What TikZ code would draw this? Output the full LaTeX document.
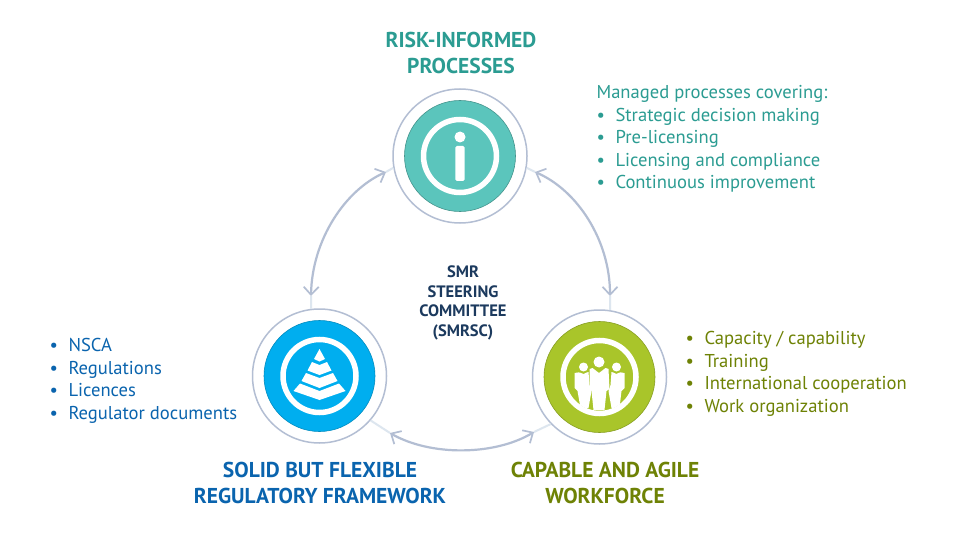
\documentclass[tikz,border=0pt]{standalone}
\usepackage{fontspec}
\setmainfont{PT Sans}
\usetikzlibrary{arrows.meta}
\definecolor{teal1}{HTML}{5BC5BC}
\definecolor{tealtx}{HTML}{2B9C92}
\definecolor{blue1}{HTML}{00AEEF}
\definecolor{bluetx}{HTML}{0A64AE}
\definecolor{green1}{HTML}{A9C52A}
\definecolor{greentx}{HTML}{6E8205}
\definecolor{navy}{HTML}{1C3A5E}
\definecolor{ringc}{HTML}{B3BED3}
\definecolor{fadec}{HTML}{DDE6EF}
\tikzset{
  x=1pt,y=-1pt,
  outerring/.style={circle,draw=ringc,line width=1.5pt,fill=white,minimum size=134pt,inner sep=0pt},
  disc/.style={circle,minimum size=111pt,inner sep=0pt},
  whitering/.style={circle,draw=white,line width=5.5pt,minimum size=73pt,inner sep=0pt},
  link/.style={draw=ringc,line width=2.2pt,{Straight Barb[length=8pt,width=15pt,line width=1.7pt]}-{Straight Barb[length=8pt,width=15pt,line width=1.7pt]}},
  tail/.style={draw=fadec,line width=2pt},
  title/.style={font=\fontsize{21.5}{26}\selectfont\bfseries,align=center},
  lst/.style={font=\fontsize{18.6}{22.5}\selectfont,align=left,anchor=north west},
  mid/.style={font=\fontsize{16.5}{19.5}\selectfont\bfseries,align=center,text=navy}
}
\newcommand{\bl}{\makebox[19pt][l]{•}}
\begin{document}
\begin{tikzpicture}
\useasboundingbox (0,0) rectangle (960,540);
\fill[white] (0,0) rectangle (960,540);
% free ends
\coordinate (tl) at (386,172);\coordinate (tr) at (535,172);
\coordinate (lt) at (311,296);\coordinate (rt) at (610,296);
\coordinate (lr) at (390,433);\coordinate (rl) at (534,432);
% rings
\node[outerring] (top) at (460,156) {};
\node[outerring] (left) at (319.5,376) {};
\node[outerring] (right) at (599.5,377) {};
% tails
\draw[tail] (top.190) -- (tl);
\draw[tail] (top.-10) -- (tr);
\draw[tail] (left.97) -- (lt);
\draw[tail] (right.81) -- (rt);
\draw[tail] (left.-41) -- (lr);
\draw[tail] (right.224) -- (rl);
% arcs
\draw[link] (tl) .. controls (345,190) and (312,240) .. (lt);
\draw[link] (tr) .. controls (577,190) and (610,240) .. (rt);
\draw[link] (lr) .. controls (430,456) and (494,456) .. (rl);
% discs
\node[disc,fill=teal1,draw=teal1!75!black,line width=.6pt] (dt) at (top) {};
\node[disc,fill=blue1,draw=blue1!80!black,line width=.6pt] (dl) at (left) {};
\node[disc,fill=green1,draw=green1!80!black,line width=.6pt] (dr) at (right) {};
\node[whitering] (wt) at (top) {};
\node[whitering] (wl) at (left) {};
\node[whitering] (wr) at (right) {};
% info icon
\fill[white] (460,137) circle (5.5);
\fill[white,rounded corners=1.5pt] (455.3,146) rectangle (464.7,181);
% pyramid
\begin{scope}[shift={(left)}]
\fill[white] (0,-27) -- (5.5,-17) -- (0,-14.5) -- (-5.5,-17) -- cycle;
\fill[white] (-7.5,-14) -- (0,-11) -- (7.5,-14) -- (12,-5.5) -- (0,-1) -- (-12,-5.5) -- cycle;
\fill[white] (-13.5,-3) -- (0,2) -- (13.5,-3) -- (18,5) -- (0,12) -- (-18,5) -- cycle;
\fill[white] (-19.5,7.5) -- (0,15) -- (19.5,7.5) -- (26,15) -- (0,24) -- (-26,15) -- cycle;
\end{scope}
% people
\begin{scope}[shift={(right)}]
\clip (0,0) circle (34);
\fill[white] (-16,-10) circle (4.5);
\fill[white] (17,-10) circle (4.5);
\fill[white] (-0.5,-15) circle (5.5);
\fill[white] (-25,-4) .. controls (-22,-5) and (-20,-5) .. (-16,-3) .. controls (-14,-4) and (-12,-5) .. (-11,-5) -- (-10,8) -- (-8,14) -- (-11,31) -- (-19,31) -- (-22,14) -- (-25,11) -- cycle;
\fill[white] (25,-4) .. controls (22,-5) and (20,-5) .. (17,-3) .. controls (15,-4) and (13,-5) .. (12,-5) -- (11,8) -- (9,14) -- (12,31) -- (20,31) -- (22,14) -- (25,11) -- cycle;
\fill[white] (-10,-8) -- (-7,-9) -- (-0.5,-4) -- (6,-9) -- (9,-8) -- (10,12) -- (7,14) -- (5,33) -- (-6,33) -- (-8,14) -- (-10,12) -- cycle;
\end{scope}
% texts
\node[title,text=tealtx] (ttop) at (461,53) {RISK-INFORMED\\PROCESSES};
\node[title,text=bluetx] (tleft) at (320,483) {SOLID BUT FLEXIBLE\\REGULATORY FRAMEWORK};
\node[title,text=greentx] (tright) at (605,483) {CAPABLE AND AGILE\\WORKFORCE};
\node[mid] (midt) at (463,303) {SMR\\STEERING\\COMMITTEE\\(SMRSC)};
\node[lst,text=tealtx] (ltop) at (593,82) {Managed processes covering:\\\bl Strategic decision making\\\bl Pre-licensing\\\bl Licensing and compliance\\\bl Continuous improvement};
\node[lst,text=bluetx] (lleft) at (46,335) {\bl NSCA\\\bl Regulations\\\bl Licences\\\bl Regulator documents};
\node[lst,text=greentx] (lright) at (682,328) {\bl Capacity / capability\\\bl Training\\\bl International cooperation\\\bl Work organization};
\end{tikzpicture}
\end{document}
